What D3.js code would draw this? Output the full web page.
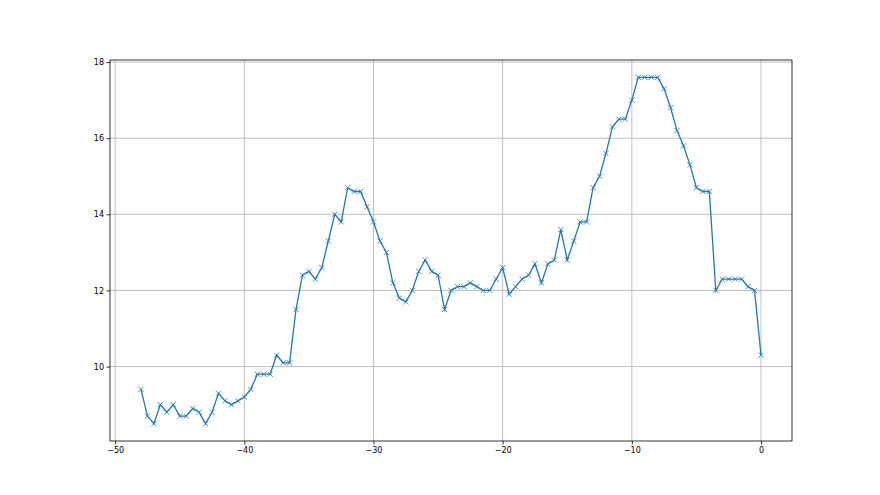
<!DOCTYPE html>
<html>
<head>
<meta charset="utf-8">
<script src="https://cdn.jsdelivr.net/npm/d3@7"></script>
<style>
  body { margin: 0; background: #fff; }
  text { font-family: "DejaVu Sans", sans-serif; }
</style>
</head>
<body>
<svg id="chart" width="880" height="495"></svg>
<script>
// x runs from -48 to 0 in steps of 0.5
const xValues = d3.range(97).map((i) => -48 + i * 0.5);
const yValues = [
  9.4, 8.7, 8.5, 9.0, 8.8, 9.0, 8.7, 8.7, 8.9, 8.8,
  8.5, 8.8, 9.3, 9.1, 9.0, 9.1, 9.2, 9.4, 9.8, 9.8,
  9.8, 10.3, 10.1, 10.1, 11.5, 12.4, 12.5, 12.3, 12.6, 13.3,
  14.0, 13.8, 14.7, 14.6, 14.6, 14.2, 13.8, 13.3, 13.0, 12.2,
  11.8, 11.7, 12.0, 12.5, 12.8, 12.5, 12.4, 11.5, 12.0, 12.1,
  12.1, 12.2, 12.1, 12.0, 12.0, 12.3, 12.6, 11.9, 12.1, 12.3,
  12.4, 12.7, 12.2, 12.7, 12.8, 13.6, 12.8, 13.3, 13.8, 13.8,
  14.7, 15.0, 15.6, 16.3, 16.5, 16.5, 17.0, 17.6, 17.6, 17.6,
  17.6, 17.3, 16.8, 16.2, 15.8, 15.3, 14.7, 14.6, 14.6, 12.0,
  12.3, 12.3, 12.3, 12.3, 12.1, 12.0, 10.3
];
const xTicks = [-50, -40, -30, -20, -10, 0];
const yTicks = [10, 12, 14, 16, 18];

const points = xValues.map((x, i) => ({ x: x, y: yValues[i] }));

const plotLeft = 110, plotRight = 792, plotTop = 60, plotBottom = 441;
const svg = d3.select("#chart");

// matplotlib-style 5% margins
const xMin = d3.min(xValues), xMax = d3.max(xValues);
const yMin = d3.min(yValues), yMax = d3.max(yValues);
const xPad = (xMax - xMin) * 0.05, yPad = (yMax - yMin) * 0.05;

const x = d3.scaleLinear().domain([xMin - xPad, xMax + xPad]).range([plotLeft, plotRight]);
const y = d3.scaleLinear().domain([yMin - yPad, yMax + yPad]).range([plotBottom, plotTop]);

const fmt = (d) => String(d).replace("-", "\u2212");

// grid
svg.append("g")
  .selectAll("line")
  .data(xTicks)
  .join("line")
  .attr("x1", (d) => x(d)).attr("x2", (d) => x(d))
  .attr("y1", plotTop).attr("y2", plotBottom)
  .attr("stroke", "#b0b0b0").attr("stroke-width", 0.8);
svg.append("g")
  .selectAll("line")
  .data(yTicks)
  .join("line")
  .attr("y1", (d) => y(d)).attr("y2", (d) => y(d))
  .attr("x1", plotLeft).attr("x2", plotRight)
  .attr("stroke", "#b0b0b0").attr("stroke-width", 0.8);

// line
svg.append("path")
  .datum(points)
  .attr("fill", "none")
  .attr("stroke", "#1f77b4")
  .attr("stroke-width", 1.3)
  .attr("d", d3.line().x((d) => x(d.x)).y((d) => y(d.y)));

// x markers
const m = 2.6;
svg.append("g")
  .selectAll("path")
  .data(points)
  .join("path")
  .attr("d", (d) => {
    const cx = x(d.x), cy = y(d.y);
    return `M${cx - m},${cy - m}L${cx + m},${cy + m}M${cx - m},${cy + m}L${cx + m},${cy - m}`;
  })
  .attr("stroke", "#1f77b4")
  .attr("stroke-width", 0.8)
  .attr("fill", "none");

// axes
const xAxis = d3.axisBottom(x).tickValues(xTicks).tickFormat(fmt).tickSizeOuter(0).tickSize(3.5).tickPadding(2.5);
const yAxis = d3.axisLeft(y).tickValues(yTicks).tickFormat(fmt).tickSizeOuter(0).tickSize(3.5).tickPadding(2.5);

const gx = svg.append("g").attr("transform", `translate(0,${plotBottom})`).call(xAxis);
const gy = svg.append("g").attr("transform", `translate(${plotLeft},0)`).call(yAxis);
[gx, gy].forEach((g) => {
  g.select(".domain").remove();
  g.selectAll(".tick line").attr("stroke", "#000").attr("stroke-width", 0.8);
  g.selectAll(".tick text").attr("font-size", 8).attr("fill", "#000")
    .attr("font-family", "DejaVu Sans, sans-serif");
});

// frame
svg.append("rect")
  .attr("x", plotLeft).attr("y", plotTop)
  .attr("width", plotRight - plotLeft).attr("height", plotBottom - plotTop)
  .attr("fill", "none").attr("stroke", "#000").attr("stroke-width", 0.8);
</script>
</body>
</html>
